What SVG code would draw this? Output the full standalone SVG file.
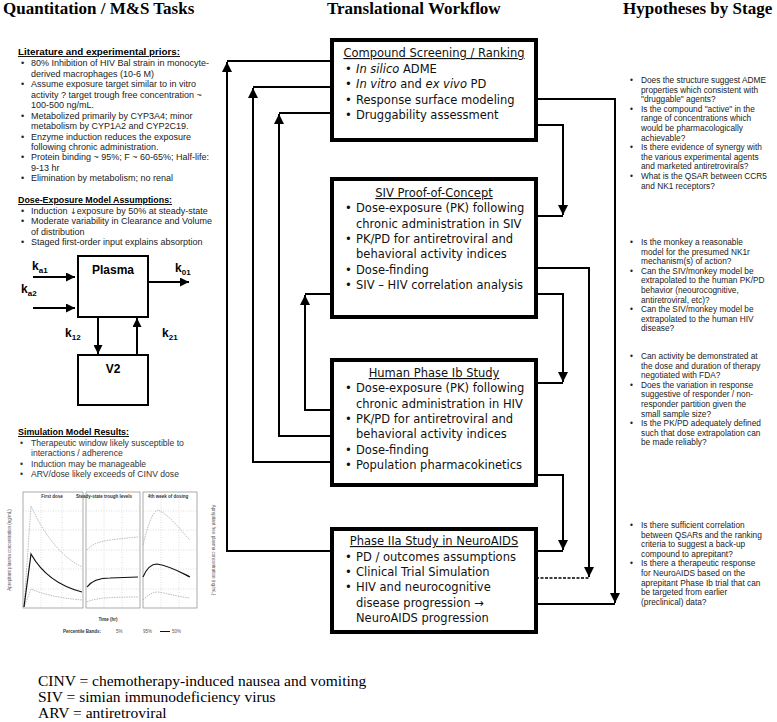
<svg xmlns="http://www.w3.org/2000/svg" width="777" height="722" viewBox="0 0 777 722">
<defs>
<style>
.h{font-family:"Liberation Serif","Times New Roman",serif;font-size:17px;font-weight:bold;font-style:normal;fill:#000}
.t{font-family:"Liberation Sans",Arial,sans-serif;font-size:9px;fill:#222}
.tr{font-family:"Liberation Sans",Arial,sans-serif;font-size:8.3px;fill:#222}
.tb{font-family:"Liberation Sans",Arial,sans-serif;font-size:9px;font-weight:bold;fill:#000;text-decoration:underline}
.ts{font-family:"Liberation Sans",Arial,sans-serif;font-size:8.6px;fill:#333}
.bx{font-family:"DejaVu Sans",Verdana,sans-serif;font-size:11.5px;fill:#111}
.bt{text-decoration:underline}
.box{fill:#fff;stroke:#000;stroke-width:4}
.conn{fill:none;stroke:#000;stroke-width:2}
.arr{marker-end:url(#ah)}
.dash{stroke-dasharray:3 1.5;stroke-width:1.5}
.mb{fill:#fff;stroke:#000;stroke-width:2}
.ml{fill:none;stroke:#000;stroke-width:2;marker-end:url(#ah2)}
.mk{font-family:"Liberation Sans",Arial,sans-serif;font-size:12px;font-weight:bold;fill:#000}
.sub{font-size:8px}
.foot{font-family:"Liberation Serif","Times New Roman",serif;font-size:15.5px;fill:#000}
.cf{fill:none;stroke:#888;stroke-width:0.7}
.cg{fill:none;stroke:#bbb;stroke-width:0.5;stroke-dasharray:1 1.5}
.cm{fill:none;stroke:#111;stroke-width:1.2}
.cb{fill:none;stroke:#aaa;stroke-width:0.8;stroke-dasharray:1.5 1}
.ct{font-family:"Liberation Sans",Arial,sans-serif;font-size:4.5px;fill:#555}
.ctb{font-family:"Liberation Sans",Arial,sans-serif;font-size:4.5px;font-weight:bold;fill:#333}
</style>
<marker id="ah" viewBox="0 0 10 10" refX="10" refY="5" markerWidth="5.5" markerHeight="5" orient="auto" markerUnits="strokeWidth"><path d="M0 0L10 5L0 10z" fill="#000"/></marker>
<marker id="ah2" viewBox="0 0 10 10" refX="10" refY="5" markerWidth="4.5" markerHeight="4.5" orient="auto" markerUnits="strokeWidth"><path d="M0 0L10 5L0 10z" fill="#000"/></marker>
</defs>
<rect width="777" height="722" fill="#fff"/>

<g id="headings">
<text class="h" x="3" y="14">Quantitation / M&amp;S Tasks</text>
<text class="h" x="327" y="14">Translational Workflow</text>
<text class="h" x="623" y="14">Hypotheses by Stage</text>
</g>

<g id="priors">
<text class="tb" x="18" y="55" textLength="162" lengthAdjust="spacingAndGlyphs">Literature and experimental priors:</text>
<text class="t">
<tspan x="21" y="66">•</tspan><tspan x="31" y="66">80% Inhibition of HIV Bal strain in monocyte-</tspan>
<tspan x="31" y="76.5">derived macrophages (10-6 M)</tspan>
<tspan x="21" y="87">•</tspan><tspan x="31" y="87">Assume exposure target similar to in vitro</tspan>
<tspan x="31" y="97.5">activity ? target trough free concentration ~</tspan>
<tspan x="31" y="108">100-500 ng/mL.</tspan>
<tspan x="21" y="118.5">•</tspan><tspan x="31" y="118.5">Metabolized primarily by CYP3A4; minor</tspan>
<tspan x="31" y="129">metabolism by CYP1A2 and CYP2C19.</tspan>
<tspan x="21" y="139.5">•</tspan><tspan x="31" y="139.5">Enzyme induction reduces the exposure</tspan>
<tspan x="31" y="150">following chronic administration.</tspan>
<tspan x="21" y="160">•</tspan><tspan x="31" y="160">Protein binding ~ 95%; F ~ 60-65%; Half-life:</tspan>
<tspan x="31" y="170.5">9-13 hr</tspan>
<tspan x="21" y="181">•</tspan><tspan x="31" y="181">Elimination by metabolism; no renal</tspan>
</text>
</g>

<g id="assumptions">
<text class="tb" x="18" y="203" textLength="154" lengthAdjust="spacingAndGlyphs">Dose-Exposure Model Assumptions:</text>
<text class="t">
<tspan x="21" y="213.5">•</tspan><tspan x="31" y="213.5">Induction </tspan><tspan font-family="DejaVu Sans,sans-serif" font-size="8">↓</tspan><tspan>exposure by 50% at steady-state</tspan>
<tspan x="21" y="224">•</tspan><tspan x="31" y="224">Moderate variability in Clearance and Volume</tspan>
<tspan x="31" y="234.5">of distribution</tspan>
<tspan x="21" y="245">•</tspan><tspan x="31" y="245">Staged first-order input explains absorption</tspan>
</text>
</g>

<g id="pk-model">
<rect class="mb" x="78" y="256" width="70" height="61"/>
<text class="mk" x="113" y="274" text-anchor="middle">Plasma</text>
<rect class="mb" x="78" y="355" width="70" height="50"/>
<text class="mk" x="113" y="373" text-anchor="middle">V2</text>
<path class="ml" d="M33 277H75"/>
<path class="ml" d="M33 308H75"/>
<path class="ml" d="M149 282H189"/>
<path class="ml" d="M98 318V354"/>
<path class="ml" d="M137 354V318"/>
<text class="mk" x="32" y="270">k<tspan class="sub" dy="3">a1</tspan></text>
<text class="mk" x="21" y="293">k<tspan class="sub" dy="3">a2</tspan></text>
<text class="mk" x="175" y="272">k<tspan class="sub" dy="3">01</tspan></text>
<text class="mk" x="65" y="337">k<tspan class="sub" dy="3">12</tspan></text>
<text class="mk" x="162" y="337">k<tspan class="sub" dy="3">21</tspan></text>
</g>

<g id="sim-results">
<text class="tb" x="18" y="435" textLength="111" lengthAdjust="spacingAndGlyphs">Simulation Model Results:</text>
<text class="ts">
<tspan x="20" y="445.5">•</tspan><tspan x="31" y="445.5">Therapeutic window likely susceptible to</tspan>
<tspan x="31" y="456">interactions / adherence</tspan>
<tspan x="20" y="466.5">•</tspan><tspan x="31" y="466.5">Induction may be manageable</tspan>
<tspan x="20" y="477">•</tspan><tspan x="31" y="477">ARV/dose likely exceeds of CINV dose</tspan>
</text>
</g>

<g id="chart">
<rect class="cf" x="23" y="492" width="60" height="116"/>
<rect class="cf" x="86" y="492" width="54" height="116"/>
<rect class="cf" x="143" y="492" width="54" height="116"/>
<path class="cg" d="M23 511H83M23 530H83M23 550H83M23 569H83M23 589H83M86 511H140M86 530H140M86 550H140M86 569H140M86 589H140M143 511H197M143 530H197M143 550H197M143 569H197M143 589H197M41 492V608M62 492V608M104 492V608M122 492V608M161 492V608M179 492V608"/>
<path class="cb" d="M24 607L31 506C42 530 58 555 82 567"/>
<path class="cb" d="M24 607L31 589C45 595 60 598 82 600"/>
<path class="cm" d="M24 607L31 554C40 570 55 585 82 592"/>
<path class="cb" d="M87 550C95 540 110 540 138 537"/>
<path class="cb" d="M87 602C95 598 110 597 138 597"/>
<path class="cm" d="M87 587C92 580 100 578 110 578L138 577"/>
<path class="cb" d="M143 545C148 525 152 512 158 510C170 515 180 530 190 540"/>
<path class="cb" d="M143 600C148 595 152 592 158 592C170 594 180 597 190 598"/>
<path class="cm" d="M143 577C146 570 150 564 157 564C170 566 180 572 190 577"/>
<text class="ctb" x="52" y="498" text-anchor="middle">First dose</text>
<text class="ctb" x="104" y="498" text-anchor="middle">Steady-state trough levels</text>
<text class="ctb" x="168" y="498" text-anchor="middle">4th week of dosing</text>
<text class="ct" transform="translate(11 550) rotate(-90)" text-anchor="middle">Aprepitant plasma concentration (ng/mL)</text>
<text class="ct" transform="translate(212 550) rotate(90)" text-anchor="middle">Aprepitant free plasma concentration (ng/mL)</text>
<text class="ctb" x="108" y="621" text-anchor="middle">Time (hr)</text>
<text class="ctb" x="63" y="633">Percentile Bands:</text>
<text class="ct" x="116" y="633">5%</text>
<text class="ct" x="143" y="633">95%</text>
<path d="M160 631.5H170" stroke="#111" stroke-width="1"/>
<text class="ct" x="172" y="633">50%</text>
</g>

<g id="connectors">
<path class="conn arr" d="M332 551H227V62"/>
<path class="conn" d="M227 61H332"/>
<path class="conn arr" d="M332 462H253V88"/>
<path class="conn" d="M253 87H332"/>
<path class="conn arr" d="M332 436H279V114"/>
<path class="conn" d="M279 113H332"/>
<path class="conn arr" d="M332 410H305V295"/>
<path class="conn" d="M305 294H332"/>
<path class="conn arr" d="M536 99H615V603"/>
<path class="conn" d="M536 604H615"/>
<path class="conn arr" d="M536 125H563V215"/>
<path class="conn" d="M536 216H563"/>
<path class="conn arr" d="M536 294H563V382"/>
<path class="conn" d="M536 383H563"/>
<path class="conn arr" d="M536 475H563V550"/>
<path class="conn" d="M536 551H563"/>
<path class="conn arr" d="M536 268H589V577"/>
<path class="conn dash" d="M536 578H589"/>
</g>

<g id="compound-screening">
<rect class="box" x="332" y="40" width="204" height="100"/>
<text class="bx bt" x="434" y="57" text-anchor="middle">Compound Screening / Ranking</text>
<text class="bx">
<tspan x="345" y="73">•</tspan><tspan x="356" y="73" font-style="italic">In silico</tspan><tspan> ADME</tspan>
<tspan x="345" y="88">•</tspan><tspan x="356" y="88" font-style="italic">In vitro</tspan><tspan> and </tspan><tspan font-style="italic">ex vivo</tspan><tspan> PD</tspan>
<tspan x="345" y="103.5">•</tspan><tspan x="356" y="103.5">Response surface modeling</tspan>
<tspan x="345" y="119">•</tspan><tspan x="356" y="119">Druggability assessment</tspan>
</text>
</g>

<g id="siv-poc">
<rect class="box" x="332" y="179" width="204" height="138"/>
<text class="bx bt" x="434" y="197" text-anchor="middle">SIV Proof-of-Concept</text>
<text class="bx">
<tspan x="345" y="212">•</tspan><tspan x="356" y="212">Dose-exposure (PK) following</tspan>
<tspan x="356" y="227.5">chronic administration in SIV</tspan>
<tspan x="345" y="243">•</tspan><tspan x="356" y="243">PK/PD for antiretroviral and</tspan>
<tspan x="356" y="258">behavioral activity indices</tspan>
<tspan x="345" y="273.5">•</tspan><tspan x="356" y="273.5">Dose-finding</tspan>
<tspan x="345" y="289">•</tspan><tspan x="356" y="289">SIV – HIV correlation analysis</tspan>
</text>
</g>

<g id="human-phase-ib">
<rect class="box" x="332" y="360" width="204" height="125"/>
<text class="bx bt" x="434" y="377" text-anchor="middle">Human Phase Ib Study</text>
<text class="bx">
<tspan x="345" y="392">•</tspan><tspan x="356" y="392">Dose-exposure (PK) following</tspan>
<tspan x="356" y="407.5">chronic administration in HIV</tspan>
<tspan x="345" y="423">•</tspan><tspan x="356" y="423">PK/PD for antiretroviral and</tspan>
<tspan x="356" y="438">behavioral activity indices</tspan>
<tspan x="345" y="453.5">•</tspan><tspan x="356" y="453.5">Dose-finding</tspan>
<tspan x="345" y="469">•</tspan><tspan x="356" y="469">Population pharmacokinetics</tspan>
</text>
</g>

<g id="phase-iia">
<rect class="box" x="332" y="529" width="204" height="103"/>
<text class="bx bt" x="434" y="545" text-anchor="middle">Phase IIa Study in NeuroAIDS</text>
<text class="bx">
<tspan x="345" y="560.5">•</tspan><tspan x="356" y="560.5">PD / outcomes assumptions</tspan>
<tspan x="345" y="576">•</tspan><tspan x="356" y="576">Clinical Trial Simulation</tspan>
<tspan x="345" y="591">•</tspan><tspan x="356" y="591">HIV and neurocognitive</tspan>
<tspan x="356" y="606.5">disease progression →</tspan>
<tspan x="356" y="622">NeuroAIDS progression</tspan>
</text>
</g>

<g id="hypotheses">
<text class="tr">
<tspan x="630" y="83">•</tspan><tspan x="641" y="83">Does the structure suggest ADME</tspan>
<tspan x="641" y="92.6">properties which consistent with</tspan>
<tspan x="641" y="102.2">"druggable" agents?</tspan>
<tspan x="630" y="111.8">•</tspan><tspan x="641" y="111.8">Is the compound "active" in the</tspan>
<tspan x="641" y="121.4">range of concentrations which</tspan>
<tspan x="641" y="131">would be pharmacologically</tspan>
<tspan x="641" y="140.6">achievable?</tspan>
<tspan x="630" y="150.2">•</tspan><tspan x="641" y="150.2">Is there evidence of synergy with</tspan>
<tspan x="641" y="159.8">the various experimental agents</tspan>
<tspan x="641" y="169.4">and marketed antiretrovirals?</tspan>
<tspan x="630" y="179">•</tspan><tspan x="641" y="179">What is the QSAR between CCR5</tspan>
<tspan x="641" y="188.6">and NK1 receptors?</tspan>
</text>
<text class="tr">
<tspan x="630" y="245">•</tspan><tspan x="641" y="245">Is the monkey a reasonable</tspan>
<tspan x="641" y="254.6">model for the presumed NK1r</tspan>
<tspan x="641" y="264.2">mechanism(s) of action?</tspan>
<tspan x="630" y="273.8">•</tspan><tspan x="641" y="273.8">Can the SIV/monkey model be</tspan>
<tspan x="641" y="283.4">extrapolated to the human PK/PD</tspan>
<tspan x="641" y="293">behavior (neourocognitive,</tspan>
<tspan x="641" y="302.6">antiretroviral, etc)?</tspan>
<tspan x="630" y="312.2">•</tspan><tspan x="641" y="312.2">Can the SIV/monkey model be</tspan>
<tspan x="641" y="321.8">extrapolated to the human HIV</tspan>
<tspan x="641" y="331.4">disease?</tspan>
</text>
<text class="tr">
<tspan x="630" y="359">•</tspan><tspan x="641" y="359">Can activity be demonstrated at</tspan>
<tspan x="641" y="368.6">the dose and duration of therapy</tspan>
<tspan x="641" y="378.2">negotiated with FDA?</tspan>
<tspan x="630" y="387.8">•</tspan><tspan x="641" y="387.8">Does the variation in response</tspan>
<tspan x="641" y="397.4">suggestive of responder / non-</tspan>
<tspan x="641" y="407">responder partition given the</tspan>
<tspan x="641" y="416.6">small sample size?</tspan>
<tspan x="630" y="426.2">•</tspan><tspan x="641" y="426.2">Is the PK/PD adequately defined</tspan>
<tspan x="641" y="435.8">such that dose extrapolation can</tspan>
<tspan x="641" y="445.4">be made reliably?</tspan>
</text>
<text class="tr">
<tspan x="630" y="528">•</tspan><tspan x="641" y="528">Is there sufficient correlation</tspan>
<tspan x="641" y="537.6">between QSARs and the ranking</tspan>
<tspan x="641" y="547.2">criteria to suggest a back-up</tspan>
<tspan x="641" y="556.8">compound to aprepitant?</tspan>
<tspan x="630" y="566.4">•</tspan><tspan x="641" y="566.4">Is there a therapeutic response</tspan>
<tspan x="641" y="576">for NeuroAIDS based on the</tspan>
<tspan x="641" y="585.6">aprepitant Phase Ib trial that can</tspan>
<tspan x="641" y="595.2">be targeted from earlier</tspan>
<tspan x="641" y="604.8">(preclinical) data?</tspan>
</text>
</g>

<g id="footnotes">
<text class="foot" x="38" y="686">CINV = chemotherapy-induced nausea and vomiting</text>
<text class="foot" x="38" y="702">SIV = simian immunodeficiency virus</text>
<text class="foot" x="38" y="718">ARV = antiretroviral</text>
</g>
</svg>
